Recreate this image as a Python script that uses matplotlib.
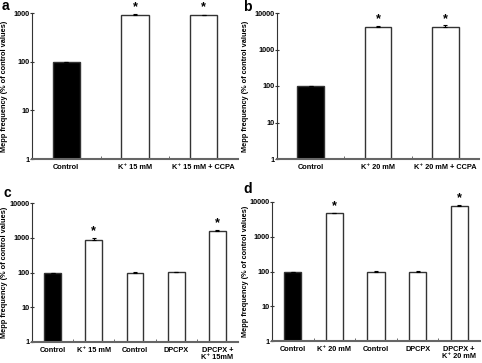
import numpy as np
import matplotlib
matplotlib.use('Agg')
import matplotlib.pyplot as plt

plt.rcParams['font.family'] = ['Liberation Sans', 'DejaVu Sans']
plt.rcParams['font.weight'] = 'bold'

# panel data
a_labels = ['Control', 'K\u207a 15 mM', 'K\u207a 15 mM + CCPA']
a_values = [100, 900, 890]
a_err = [0, 40, 40]
a_star = [False, True, True]

b_labels = ['Control', 'K\u207a 20 mM', 'K\u207a 20 mM + CCPA']
b_values = [100, 4200, 4250]
b_err = [0, 300, 300]
b_star = [False, True, True]

c_labels = ['Control', 'K\u207a 15 mM', 'Control', 'DPCPX', 'DPCPX +\nK\u207a 15mM']
c_values = [100, 880, 100, 103, 1600]
c_err = [0, 80, 2, 3, 120]
c_star = [False, True, False, False, True]

d_labels = ['Control', 'K\u207a 20 mM', 'Control', 'DPCPX', 'DPCPX +\nK\u207a 20 mM']
d_values = [100, 4700, 100, 100, 7800]
d_err = [0, 250, 2, 2, 400]
d_star = [False, True, False, False, True]

W, H = 482, 363
fig = plt.figure(figsize=(W/100, H/100), dpi=100)

def px_axes(l, t, r, b):
    return fig.add_axes([l/W, (H-b)/H, (r-l)/W, (b-t)/H])

def panel(ax, labels, values, err, star, ymax, letter, lpos, ylab_x, width):
    n = len(values)
    x = np.arange(n)
    colors = ['black'] + ['white']*(n-1)
    ax.bar(x, values, width=width, color=colors, edgecolor='#333333', linewidth=1.0, zorder=2)
    ax.errorbar(x, values, yerr=[np.zeros(n), err], fmt='none', ecolor='black',
                elinewidth=0.8, capsize=1.5, capthick=0.8, zorder=3)
    for xi, v, e, s in zip(x, values, err, star):
        if s:
            ax.text(xi, (v+e)*1.05, '*', ha='center', va='bottom', fontsize=9,
                    fontweight='bold', clip_on=False)
    ax.set_yscale('log')
    ax.set_ylim(1, ymax)
    ax.set_xlim(-0.5, n-0.5)
    ticks = [10**k for k in range(int(np.log10(ymax))+1)]
    ax.set_yticks(ticks)
    ax.set_yticklabels([str(t) for t in ticks], fontsize=5.2, fontweight='bold')
    ax.yaxis.set_minor_locator(matplotlib.ticker.NullLocator())
    ax.set_xticks(x)
    ax.set_xticklabels(labels, fontsize=5.3, fontweight='bold', linespacing=1.1)
    ax.set_xticks(np.arange(n-1)+0.5, minor=True)
    ax.tick_params(axis='x', which='major', length=0, pad=3.5)
    ax.tick_params(axis='x', which='minor', length=2.5, direction='in', color='#555555')
    ax.tick_params(axis='y', which='major', length=3, direction='inout', pad=0.5, color='#333333')
    for sp in ['top', 'right']:
        ax.spines[sp].set_visible(False)
    ax.spines['left'].set_color('#333333')
    ax.spines['left'].set_linewidth(0.8)
    ax.spines['bottom'].set_color('#666666')
    ax.spines['bottom'].set_linewidth(1.5)
    ax.set_ylabel('Mepp frequency (% of control values)', fontsize=5.3, fontweight='bold')
    l, b, w, h = ax.get_position().bounds
    ax.yaxis.set_label_coords((ylab_x/W - l)/w, 0.5)
    fig.text(lpos[0]/W, 1 - lpos[1]/H, letter, fontsize=10, fontweight='bold',
             ha='left', va='top')

ax_a = px_axes(32, 13, 238, 159)
panel(ax_a, a_labels, a_values, a_err, a_star, 1000, 'a', (2, -1), 8, 0.4)
ax_b = px_axes(277, 13, 479, 159)
panel(ax_b, b_labels, b_values, b_err, b_star, 10000, 'b', (243, 0), 249, 0.4)
ax_c = px_axes(32, 203, 238, 342)
panel(ax_c, c_labels, c_values, c_err, c_star, 10000, 'c', (3, 186), 8, 0.41)
ax_d = px_axes(272, 202, 480, 341)
panel(ax_d, d_labels, d_values, d_err, d_star, 10000, 'd', (243, 182), 249, 0.41)

fig.savefig('out.png', dpi=100)
